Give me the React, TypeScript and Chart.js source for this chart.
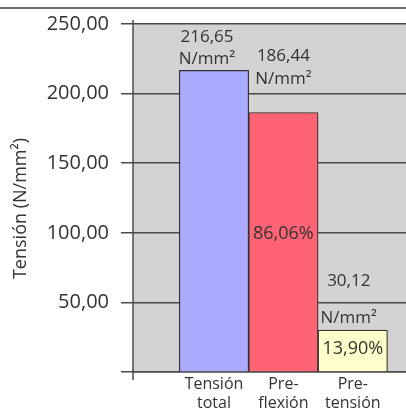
import { useEffect, useRef } from 'react';
import { Chart, registerables } from 'chart.js';

Chart.register(...registerables);

const FONT = '"Open Sans", "Noto Sans", sans-serif';
const INK = '#333333';
const RULE = '#4a4a4a';

// Stress components of the section (N/mm²)
const categories = [
  ['Tensión', 'total'],
  ['Pre-', 'flexión'],
  ['Pre-', 'tensión'],
];
const tensions = [216.65, 186.44, 30.12];
const barColors = ['#aaaaff', '#ff6474', '#ffffcc'];
const unitLabel = 'N/mm²';
const axisTitle = 'Tensión (N/mm²)';
const yMax = 250;
const yStep = 50;

const fmt = (v: number) => v.toFixed(2).replace('.', ',');
// share of each component relative to the total stress
const shares = tensions.map((v) => (v / tensions[0]) * 100);

// placement of the value callouts drawn above each bar
const calloutDx = [-7, 0, -4];
const calloutGap = [6.4, 28.7, 7.5];
const calloutLeading = [22.3, 22.3, 36.3];
const shareDy = [0, -8, -2];

const frame = {
  id: 'frame',
  beforeDraw(chart: any) {
    const { ctx, chartArea: a, width } = chart;
    ctx.save();
    ctx.fillStyle = '#d3d3d3';
    ctx.fillRect(a.left, a.top, a.right - a.left, a.bottom - a.top);
    ctx.strokeStyle = '#3d3d3d';
    ctx.lineWidth = 1.5;
    ctx.beginPath();
    ctx.moveTo(0, 8);
    ctx.lineTo(width, 8);
    ctx.stroke();
    ctx.restore();
  },
  afterDraw(chart: any) {
    const { ctx, chartArea: a } = chart;
    ctx.save();
    // value axis line, running a little past both ends of the plot
    ctx.strokeStyle = RULE;
    ctx.lineWidth = 1.5;
    ctx.beginPath();
    ctx.moveTo(a.left, a.top - 4);
    ctx.lineTo(a.left, a.bottom + 8);
    ctx.stroke();
    // axis title
    ctx.translate(21, (a.top + a.bottom) / 2 + 10.5);
    ctx.rotate(-Math.PI / 2);
    ctx.font = `18px ${FONT}`;
    ctx.fillStyle = INK;
    ctx.textAlign = 'center';
    ctx.textBaseline = 'middle';
    ctx.fillText(axisTitle, 0, 0);
    ctx.restore();
  },
};

const callouts = {
  id: 'callouts',
  afterDatasetsDraw(chart: any) {
    const { ctx } = chart;
    const bars = chart.getDatasetMeta(0).data;
    ctx.save();
    ctx.fillStyle = INK;
    ctx.textAlign = 'center';
    bars.forEach((bar: any, i: number) => {
      const { x, y, base } = bar.getProps(['x', 'y', 'base'], true);
      const cx = x + calloutDx[i];
      const unitBase = y - calloutGap[i];
      ctx.font = `17px ${FONT}`;
      ctx.textBaseline = 'alphabetic';
      ctx.fillText(unitLabel, cx, unitBase);
      ctx.fillText(fmt(tensions[i]), cx, unitBase - calloutLeading[i]);
      if (i > 0) {
        ctx.font = `18px ${FONT}`;
        ctx.textBaseline = 'middle';
        ctx.fillText(`${fmt(shares[i])}%`, x, (y + base) / 2 + shareDy[i]);
      }
    });
    ctx.restore();
  },
};

export default function App() {
  const canvasRef = useRef<HTMLCanvasElement | null>(null);

  useEffect(() => {
    const canvas = canvasRef.current;
    if (!canvas) return;
    const chart = new Chart(canvas, {
      type: 'bar',
      data: {
        datasets: [
          {
            data: tensions.map((v, i) => ({ x: i + 1, y: v })),
            backgroundColor: barColors,
            borderColor: '#333333',
            borderWidth: 1.2,
            barPercentage: 1,
            categoryPercentage: 1,
          },
        ],
      },
      options: {
        animation: false,
        responsive: false,
        devicePixelRatio: 1,
        layout: { padding: { top: 22, left: 0, right: 0, bottom: 0 } },
        plugins: { legend: { display: false }, tooltip: { enabled: false } },
        scales: {
          x: {
            type: 'linear',
            min: -0.167,
            max: 3.767,
            offset: false,
            afterBuildTicks: (s: any) => {
              s.ticks = categories.map((_, i) => ({ value: i + 1 }));
            },
            afterFit: (s: any) => {
              s.height = 39;
            },
            grid: { display: false, drawTicks: false, offset: false },
            border: { display: true, color: RULE, width: 1.5 },
            ticks: {
              callback: (v: any) => categories[Number(v) - 1] ?? '',
              color: INK,
              font: { family: FONT, size: 16 },
              padding: 3,
              maxRotation: 0,
              autoSkip: false,
            },
          },
          y: {
            min: 0,
            max: yMax,
            afterFit: (s: any) => {
              s.width = 133;
            },
            ticks: {
              stepSize: yStep,
              callback: (v: any) => (Number(v) === 0 ? '' : fmt(Number(v))),
              color: INK,
              font: { family: FONT, size: 20 },
              padding: 12,
            },
            grid: { color: RULE, lineWidth: 1.5, tickLength: 12, drawTicks: true },
            border: { display: false },
          },
        },
      } as any,
      plugins: [frame, callouts],
    });
    return () => chart.destroy();
  }, []);

  return (
    <div style={{ position: 'absolute', left: 0, top: 0, width: 406, height: 411 }}>
      <canvas ref={canvasRef} width={406} height={411} />
    </div>
  );
}
